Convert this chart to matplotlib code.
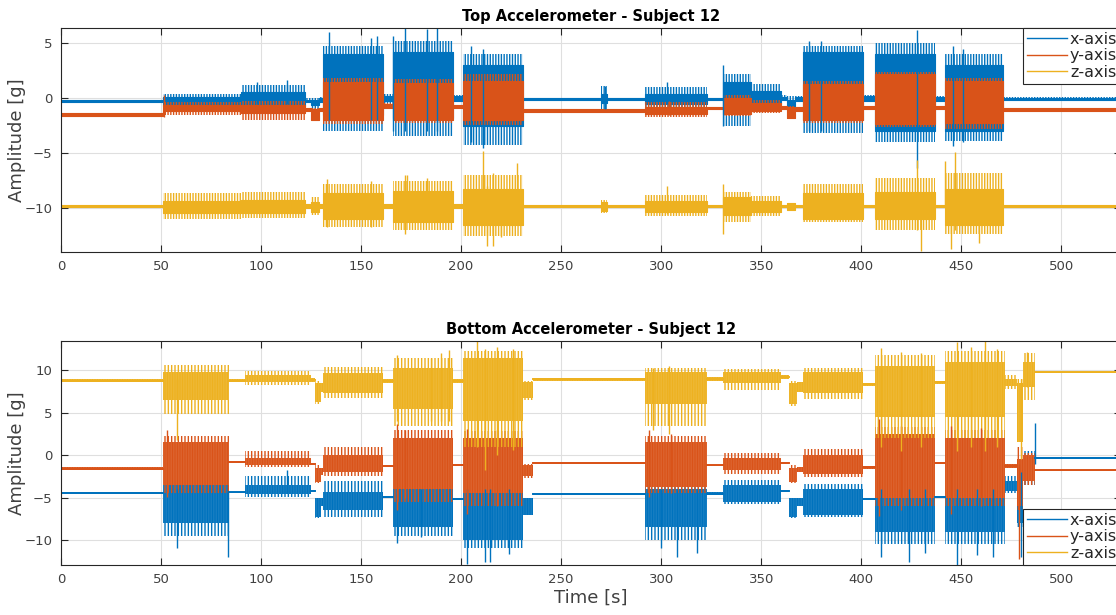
import numpy as np
import matplotlib
matplotlib.use("Agg")
import matplotlib.pyplot as plt
from matplotlib.lines import Line2D
from matplotlib.colors import to_rgb

# ---------------- data ----------------
series_labels = ["x-axis", "y-axis", "z-axis"]
colors = ["#0072BD", "#D95319", "#EDB120"]
xticks = [0, 50, 100, 150, 200, 250, 300, 350, 400, 450, 500]

# Top accelerometer: activity segment edges [s]
top_edges = [0, 51, 90, 122, 125, 129, 131, 161, 166, 196, 201, 231, 270, 273,
             292, 323, 331, 345, 360, 363, 367, 371, 401, 407, 437, 442, 471, 530]
top_x_core_lo = [-0.3, -0.7, -0.7, -0.3, -0.6, -0.3, -1.5, -0.2, -1.8, -0.2, -2.5, -0.15, -0.4, -0.15,
                 -0.5, -0.1, -1.0, -0.5, -0.1, -0.8, -0.2, -2.0, -0.2, -3.0, -0.2, -3.0, -0.15]
top_x_core_hi = [-0.15, 0.1, 0.6, -0.1, -0.1, 0.0, 4.0, 0.2, 4.2, 0.2, 3.0, 0.0, 0.4, 0.0,
                 0.4, 0.05, 1.5, 0.7, 0.1, -0.1, 0.1, 4.2, 0.2, 4.0, 0.1, 3.0, 0.0]
top_x_peak_lo = [-0.3, -0.9, -1.2, -0.4, -1.5, -0.4, -3.0, -0.4, -3.4, -0.3, -4.2, -0.2, -1.0, -0.2,
                 -0.8, -0.1, -2.5, -1.0, -0.2, -1.5, -0.3, -3.1, -0.3, -4.0, -0.3, -3.9, -0.2]
top_x_peak_hi = [-0.15, 0.4, 1.2, 0.0, 0.0, 0.1, 4.8, 0.4, 5.2, 0.3, 4.0, 0.05, 1.1, 0.05,
                 1.0, 0.05, 2.2, 1.3, 0.3, 0.2, 0.2, 4.8, 0.3, 5.0, 0.2, 4.0, 0.1]
top_y_core_lo = [-1.55, -1.1, -1.3, -1.1, -2.0, -1.1, -2.0, -0.9, -2.0, -0.9, -2.0, -1.25, -1.25, -1.25,
                 -1.4, -1.0, -1.4, -1.1, -1.0, -1.8, -1.1, -2.0, -1.0, -2.3, -1.0, -2.2, -1.15]
top_y_core_hi = [-1.3, -0.6, -0.6, -0.9, -1.0, -0.9, 1.5, -0.5, 1.4, -0.6, 1.6, -1.0, -1.0, -1.0,
                 -0.8, -0.8, 0.0, -0.4, -0.7, -0.8, -0.8, 1.3, -0.7, 2.2, -0.7, 1.6, -0.9]
top_y_peak_lo = [-1.55, -1.5, -2.0, -1.1, -2.0, -1.1, -2.3, -1.0, -2.2, -0.9, -2.4, -1.25, -1.25, -1.25,
                 -1.7, -1.0, -1.6, -1.3, -1.0, -1.9, -1.1, -2.2, -1.0, -2.6, -1.0, -2.8, -1.15]
top_y_peak_hi = [-1.3, -0.3, -0.2, -0.9, -0.9, -0.9, 1.9, -0.4, 1.8, -0.6, 2.2, -1.0, -1.0, -1.0,
                 -0.3, -0.8, 0.3, -0.1, -0.7, -0.7, -0.8, 1.6, -0.7, 2.4, -0.7, 1.9, -0.9]
top_z_core_lo = [-9.9, -10.4, -10.4, -10.0, -10.3, -10.0, -11.0, -10.0, -11.2, -10.0, -11.5, -9.9, -10.2, -9.9,
                 -10.3, -9.9, -10.6, -10.3, -9.9, -10.1, -9.9, -11.0, -9.9, -11.0, -9.9, -11.5, -9.9]
top_z_core_hi = [-9.7, -9.3, -9.2, -9.6, -9.4, -9.6, -8.6, -9.6, -8.4, -9.6, -8.2, -9.7, -9.4, -9.7,
                 -9.3, -9.7, -9.0, -9.3, -9.7, -9.5, -9.7, -8.6, -9.7, -8.5, -9.7, -8.2, -9.7]
top_z_peak_lo = [-9.9, -11.0, -10.9, -10.0, -10.6, -10.0, -11.7, -10.0, -12.0, -10.0, -12.5, -9.9, -10.4, -9.9,
                 -10.7, -9.9, -11.2, -10.7, -9.9, -10.1, -9.9, -11.2, -9.9, -12.0, -9.9, -12.3, -9.9]
top_z_peak_hi = [-9.7, -8.6, -8.5, -9.6, -9.0, -9.6, -7.8, -9.6, -7.5, -9.6, -7.0, -9.7, -9.2, -9.7,
                 -8.8, -9.7, -8.5, -8.9, -9.7, -9.5, -9.7, -7.8, -9.7, -7.2, -9.7, -6.8, -9.7]
# isolated spikes (time, low, high)
top_x_spk_t = [98, 113, 134, 155, 158, 166, 172, 183, 188, 205, 211, 272, 303, 331, 374, 380, 428, 446, 451]
top_x_spk_lo = [-0.5, -0.5, -2.0, -2.0, -2.0, -3.0, -3.0, -3.0, -3.0, -4.0, -4.5, -1.0, -0.5, -2.5, -3.0, -3.0, -6.3, -4.3, -4.0]
top_x_spk_hi = [1.5, 1.7, 6.0, 5.5, 5.7, 5.7, 6.5, 6.3, 6.5, 4.8, 4.5, 1.1, 1.5, 3.0, 5.2, 5.2, 6.2, 4.8, 4.5]
top_y_spk_t = [51.5, 304]
top_y_spk_lo = [-1.7, -1.5]
top_y_spk_hi = [0.3, -0.2]
top_z_spk_t = [133, 155, 172, 173, 183, 211, 213, 216, 220, 228, 303, 331, 428, 430, 442, 445, 447, 459]
top_z_spk_lo = [-11.7, -11.7, -12.3, -9.8, -9.8, -11.0, -13.4, -13.4, -12.6, -9.8, -10.5, -12.3, -12.0, -13.9, -9.8, -13.7, -12.0, -13.1]
top_z_spk_hi = [-7.3, -7.5, -7.0, -7.0, -7.2, -4.8, -8.0, -6.8, -8.5, -5.9, -8.0, -7.8, -5.6, -9.0, -5.7, -9.0, -4.9, -9.0]

# Bottom accelerometer
bot_edges = [0, 51, 84, 92, 125, 127, 130, 131, 161, 166, 196, 201, 231, 236, 292,
             323, 331, 360, 364, 368, 371, 401, 407, 437, 442, 472, 478, 481, 487, 530]
bot_x_core_lo = [-4.6, -8.0, -4.5, -4.6, -4.3, -7.3, -6.0, -6.5, -5.1, -8.5, -5.3, -10.0, -7.0, -4.75, -8.5,
                 -4.7, -5.5, -4.4, -7.3, -6.0, -7.0, -5.3, -9.0, -5.1, -9.0, -4.2, -8.0, -3.0, -0.45]
bot_x_core_hi = [-4.35, -3.5, -4.3, -3.5, -4.1, -5.0, -5.0, -4.3, -4.8, -4.0, -5.0, -4.0, -5.0, -4.5, -4.0,
                 -4.4, -3.5, -4.1, -5.0, -5.0, -4.0, -5.0, -4.0, -4.8, -4.0, -3.0, -3.0, 0.0, -0.2]
bot_x_peak_lo = [-4.6, -9.5, -4.5, -4.9, -4.3, -7.4, -6.0, -7.3, -5.1, -9.5, -5.3, -11.0, -7.0, -4.75, -10.0,
                 -4.7, -5.8, -4.4, -7.4, -6.0, -7.3, -5.3, -10.5, -5.1, -10.5, -4.5, -8.5, -3.5, -0.45]
bot_x_peak_hi = [-4.35, -2.5, -4.3, -2.5, -4.1, -5.0, -5.0, -3.1, -4.8, -2.6, -5.0, -2.2, -5.0, -4.5, -2.6,
                 -4.4, -2.9, -4.1, -5.0, -5.0, -3.4, -5.0, -2.6, -4.8, -3.3, -2.5, -1.0, 0.5, -0.2]
bot_y_core_lo = [-1.7, -3.5, -0.9, -1.2, -1.2, -3.2, -2.3, -2.0, -1.4, -4.0, -1.3, -4.5, -2.5, -1.0, -3.8,
                 -1.3, -1.8, -1.0, -3.2, -2.0, -2.2, -1.6, -5.0, -1.0, -5.0, -1.5, -6.0, -3.0, -1.85]
bot_y_core_hi = [-1.45, 1.5, -0.7, -0.3, -0.9, -1.5, -1.5, 0.0, -1.1, 2.0, -1.0, 2.0, -1.2, -0.8, 1.5,
                 -1.1, -0.3, -0.8, -1.5, -1.4, 0.0, -1.3, 2.5, -0.8, 2.0, -1.0, -0.5, 0.0, -1.7]
bot_y_peak_lo = [-1.7, -4.5, -0.9, -1.4, -1.2, -3.3, -2.3, -2.4, -1.4, -5.5, -1.3, -6.0, -2.7, -1.0, -4.5,
                 -1.3, -2.2, -1.0, -3.3, -2.0, -2.6, -1.6, -6.0, -1.0, -6.0, -1.5, -6.5, -3.5, -1.85]
bot_y_peak_hi = [-1.45, 2.3, -0.7, 0.5, -0.9, -1.2, -1.5, 1.0, -1.1, 3.0, -1.0, 2.8, -1.0, -0.8, 2.3,
                 -1.1, 0.2, -0.8, -1.2, -1.4, 0.7, -1.3, 3.3, -0.8, 3.0, -1.0, 1.0, 0.3, -1.7]
bot_z_core_lo = [8.6, 6.5, 8.6, 8.6, 8.6, 6.3, 7.5, 7.3, 8.5, 5.5, 8.5, 4.0, 6.8, 8.8, 6.0,
                 8.8, 8.5, 9.0, 6.0, 7.5, 7.3, 8.2, 4.5, 8.4, 4.5, 8.2, 1.5, 8.0, 9.7]
bot_z_core_hi = [9.0, 9.8, 9.0, 9.5, 9.1, 8.5, 8.5, 9.7, 9.0, 10.3, 9.0, 11.5, 8.6, 9.1, 9.8,
                 9.2, 9.8, 9.4, 8.5, 8.6, 9.8, 8.5, 10.5, 8.8, 11.0, 9.0, 8.5, 11.0, 9.85]
bot_z_peak_lo = [8.6, 4.8, 8.6, 8.3, 8.6, 6.0, 7.5, 6.7, 8.5, 3.5, 8.5, 1.0, 6.5, 8.8, 3.5,
                 8.8, 7.7, 9.0, 5.8, 7.5, 6.6, 8.2, 2.0, 8.4, 2.0, 7.8, 1.5, 6.5, 9.7]
bot_z_peak_hi = [9.0, 10.6, 9.0, 9.9, 9.1, 8.8, 8.5, 10.4, 9.0, 11.5, 9.0, 12.3, 8.8, 9.1, 10.3,
                 9.2, 10.2, 9.4, 8.8, 8.6, 10.3, 8.5, 11.8, 8.8, 12.3, 9.4, 9.0, 12.0, 9.85]
bot_x_spk_t = [58, 83.5, 113, 168, 180, 203, 212, 214.5, 224, 300, 308, 318, 410, 424, 432, 448, 458, 466, 480, 487]
bot_x_spk_lo = [-11.0, -12.0, -4.5, -10.4, -9.6, -12.8, -12.6, -12.6, -11.6, -11.0, -12.0, -11.5, -12.0, -12.6,
                -11.5, -12.9, -11.8, -12.0, -12.0, -1.0]
bot_x_spk_hi = [-4.0, -4.4, -1.8, -4.0, -4.0, -4.0, -4.0, -4.0, -4.0, -4.0, -4.0, -4.0, -4.0, -4.0,
                -4.0, -4.0, -4.0, -4.0, -2.0, 3.8]
bot_y_spk_t = [53, 168, 172, 203, 218, 294, 305, 409, 420, 445, 460, 479]
bot_y_spk_lo = [-4.9, -6.5, -5.0, -6.9, -6.0, -4.9, -4.5, -7.2, -6.5, -6.9, -6.0, -12.2]
bot_y_spk_hi = [3.0, 3.7, 3.0, 3.1, 3.0, 3.0, 2.5, 4.3, 3.5, 3.5, 3.2, -1.0]
bot_z_spk_t = [58, 168, 185, 190, 194, 208, 212, 218, 226, 296, 304, 410, 420, 430, 448, 455, 462, 468, 480, 483]
bot_z_spk_lo = [1.8, 4.0, 4.0, 4.0, 4.0, 1.0, -1.8, 0.0, 0.6, 3.0, 2.5, 1.0, 0.5, 1.0, 0.5, 1.0, 0.5, 1.0, -0.5, 8.0]
bot_z_spk_hi = [9.0, 11.8, 11.5, 12.1, 12.4, 13.5, 12.5, 12.8, 12.5, 10.3, 10.5, 12.6, 12.2, 12.0, 13.4, 12.8,
                13.5, 12.5, 9.0, 12.2]

# ---------------- style ----------------
plt.rcParams['font.family'] = ['DejaVu Sans']
plt.rcParams['hatch.linewidth'] = 1.0
TXT = "#262626"
GRID = "#dfdfdf"

fig = plt.figure(figsize=(11.16, 6.15), dpi=100)
ax_top = fig.add_axes([0.0547, 0.5907, 0.950, 0.3642])
ax_bot = fig.add_axes([0.0547, 0.0813, 0.950, 0.3647])


def tint(color, f):
    r = np.array(to_rgb(color))
    return tuple(r + (1 - r) * f)


def draw(ax, edges, cl, ch, pl, ph, color, st, slo, shi, hatch, core_hatch):
    e = np.asarray(edges, dtype=float)
    ext = lambda a: np.r_[a, a[-1]]
    ax.fill_between(e, ext(pl), ext(ph), step='post', facecolor='none', edgecolor=color,
                    hatch=hatch, lw=0)
    if core_hatch:
        ax.fill_between(e, ext(cl), ext(ch), step='post', facecolor=tint(color, 0.3),
                        edgecolor=color, hatch=core_hatch, lw=0)
        lo = np.asarray(cl, dtype=float)
        hi = np.asarray(ch, dtype=float)
        # quiet stretches of the record: draw them as a plain line
        quiet = np.where(hi - lo < 0.6, (lo + hi) / 2.0, np.nan)
        ax.step(e, ext(quiet), where='post', color=color, lw=1.4)
    else:
        ax.fill_between(e, ext(cl), ext(ch), step='post', facecolor=color, edgecolor=color, lw=0.8)
    ax.vlines(st, slo, shi, color=color, lw=1.0)


top_series = [
    (top_x_core_lo, top_x_core_hi, top_x_peak_lo, top_x_peak_hi, top_x_spk_t, top_x_spk_lo, top_x_spk_hi),
    (top_y_core_lo, top_y_core_hi, top_y_peak_lo, top_y_peak_hi, top_y_spk_t, top_y_spk_lo, top_y_spk_hi),
    (top_z_core_lo, top_z_core_hi, top_z_peak_lo, top_z_peak_hi, top_z_spk_t, top_z_spk_lo, top_z_spk_hi),
]
bot_series = [
    (bot_x_core_lo, bot_x_core_hi, bot_x_peak_lo, bot_x_peak_hi, bot_x_spk_t, bot_x_spk_lo, bot_x_spk_hi),
    (bot_y_core_lo, bot_y_core_hi, bot_y_peak_lo, bot_y_peak_hi, bot_y_spk_t, bot_y_spk_lo, bot_y_spk_hi),
    (bot_z_core_lo, bot_z_core_hi, bot_z_peak_lo, bot_z_peak_hi, bot_z_spk_t, bot_z_spk_lo, bot_z_spk_hi),
]

for ax, edges, series, title, ylim, yt, loc, hatch, core_hatch in [
        (ax_top, top_edges, top_series, "Top Accelerometer - Subject 12", (-13.93, 6.43), [-10, -5, 0, 5],
         "upper right", '||||||', None),
        (ax_bot, bot_edges, bot_series, "Bottom Accelerometer - Subject 12", (-12.95, 13.5), [-10, -5, 0, 5, 10],
         "lower right", '|||||', '||||||||||')]:
    for (cl, ch, pl, ph, st, slo, shi), c in zip(series, colors):
        draw(ax, edges, cl, ch, pl, ph, c, st, slo, shi, hatch, core_hatch)
    ax.set_xlim(0, 530)
    ax.set_ylim(*ylim)
    ax.set_xticks(xticks)
    ax.set_yticks(yt)
    ax.grid(True, color=GRID, lw=0.8)
    ax.set_axisbelow(True)
    ax.tick_params(direction='in', length=5, width=0.8, colors=TXT, labelsize=9.5,
                   top=True, right=True, pad=6, labelcolor="#404040")
    for s in ax.spines.values():
        s.set_color(TXT)
        s.set_linewidth(0.8)
    ax.set_title(title, fontsize=10.5, fontweight='bold', color="#000000", pad=5)
    ax.set_ylabel("Amplitude [g]", fontsize=13, color="#404040", labelpad=-1)
    handles = [Line2D([], [], color=c, lw=1.0) for c in colors]
    leg = ax.legend(handles, series_labels, loc=loc, borderaxespad=0, fontsize=11.5,
                    handlelength=2.5, handletextpad=0.2, labelspacing=0.1,
                    borderpad=0.25, fancybox=False, framealpha=1, edgecolor=TXT)
    leg.get_frame().set_linewidth(0.8)
    for t in leg.get_texts():
        t.set_color(TXT)

ax_bot.set_xlabel("Time [s]", fontsize=13, color="#404040", labelpad=2)

fig.savefig("out.png", dpi=100)
